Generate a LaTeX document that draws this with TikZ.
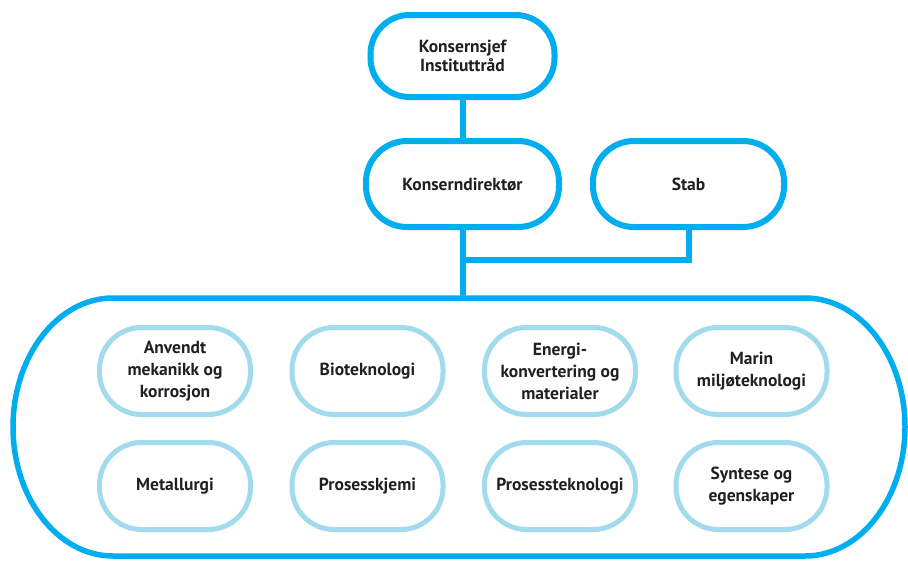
\documentclass[tikz,border=0pt]{standalone}
\usepackage{fontspec}
\setmainfont{PT Sans}
\definecolor{cyanline}{HTML}{00AEEF}
\definecolor{paleline}{HTML}{A2DAEE}
\definecolor{inktext}{HTML}{231F20}
\begin{document}
\begin{tikzpicture}[x=1pt,y=-1pt,
  lbl/.style={font=\bfseries\fontsize{17.5}{22}\selectfont, text=inktext, align=center},
  headbox/.style={lbl, draw=cyanline, line width=6pt, fill=white, rounded corners=41pt,
    inner sep=0pt, minimum height=86pt},
  unitbox/.style={lbl, draw=paleline, line width=5pt, fill=white, rounded corners=42pt,
    inner sep=0pt, minimum width=151pt, minimum height=87pt},
  link/.style={draw=cyanline, line width=6pt}]
\useasboundingbox (0,0) rectangle (908,560);
\clip (0,0) rectangle (908,560);

% outer frame holding the departments
\draw[cyanline, line width=5.5pt]
  (113,298) -- (805,298)
  arc[start angle=-90, end angle=90, x radius=100, y radius=129]
  -- (113,556)
  arc[start angle=90, end angle=270, x radius=100, y radius=129] -- cycle;
\coordinate (ftop) at (462.5,298);
\coordinate (branch) at (462.5,260);

% management
\node[headbox, minimum width=184pt, minimum height=82pt, rounded corners=39pt]
  (board) at (462.5,56) {Konsernsjef\\[-3pt]Instituttråd};
\node[headbox, minimum width=193pt] (ceo) at (462.5,184) {Konserndirektør};
\node[headbox, minimum width=191pt] (staff) at (688.5,184) {Stab};

\draw[link] (board) -- (ceo);
\draw[link] (ceo) -- (ftop);
\draw[link] (branch) -| (staff.south);

% departments
\node[unitbox] (u1) at (175,371)   {Anvendt\\mekanikk og\\korrosjon};
\node[unitbox] (u2) at (367.5,371) {Bioteknologi};
\node[unitbox] (u3) at (560,371)   {Energi-\\konvertering og\\materialer};
\node[unitbox] (u4) at (751.5,371) {Marin\\miljøteknologi};
\node[unitbox] (u5) at (175,486)   {Metallurgi};
\node[unitbox] (u6) at (367.5,486) {Prosesskjemi};
\node[unitbox] (u7) at (560,486)   {Prosessteknologi};
\node[unitbox] (u8) at (751.5,486) {Syntese og\\egenskaper};
\end{tikzpicture}
\end{document}
